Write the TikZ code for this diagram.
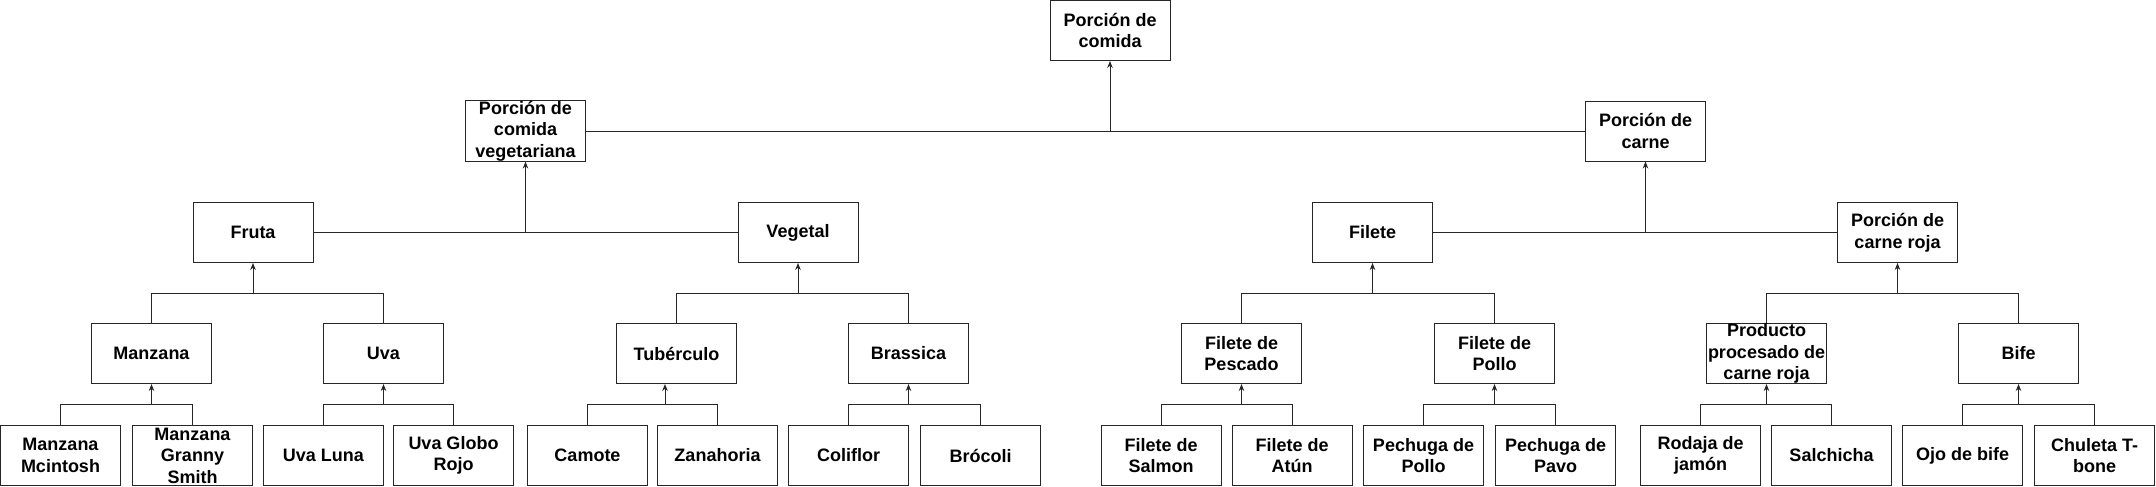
\documentclass[tikz,border=0pt]{standalone}
\usepackage{fontspec}
\setmainfont{Liberation Sans}
\usetikzlibrary{arrows.meta}
\begin{document}
\begin{tikzpicture}[x=1pt,y=-1pt,
  box/.style={draw=black!85, line width=1pt, minimum width=120pt, minimum height=60pt, inner sep=0pt, align=center, font=\bfseries\fontsize{18}{21.6}\selectfont},
  link/.style={draw=black!85, line width=1pt},
  arr/.style={link, -{Stealth[length=7pt,width=5.5pt]}}]
\useasboundingbox (0,0) rectangle (2156,487);
% row 0
\node[box] (comida) at (1110,30.5) {Porción de\\comida};
% row 1
\node[box] (veg) at (525.5,131) {Porción de\\comida\\vegetariana};
\node[box] (carne) at (1645.5,131) {Porción de\\carne};
% row 2
\node[box] (fruta) at (253,232.5) {Fruta};
\node[box] (vegetal) at (798,232.5) {Vegetal};
\node[box] (filete) at (1372.5,232.5) {Filete};
\node[box] (roja) at (1897.5,232.5) {Porción de\\carne roja};
% row 3
\node[box] (manzana) at (151.5,353.5) {Manzana};
\node[box] (uva) at (383.5,353.5) {Uva};
\node[box] (tub) at (676.5,353.5) {Tubérculo};
\node[box] (brassica) at (908.5,353.5) {Brassica};
\node[box] (pescado) at (1241.5,353.5) {Filete de\\Pescado};
\node[box] (pollo) at (1494.5,353.5) {Filete de\\Pollo};
\node[box] (producto) at (1766.5,353.5) {Producto\\procesado de\\carne roja};
\node[box] (bife) at (2018.5,353.5) {Bife};
% row 4
\node[box] (mcin) at (60.5,455.5) {Manzana\\Mcintosh};
\node[box] (granny) at (192.5,455.5) {Manzana\\Granny\\Smith};
\node[box] (luna) at (323.5,455.5) {Uva Luna};
\node[box] (globo) at (453.5,455.5) {Uva Globo\\Rojo};
\node[box] (camote) at (587.5,455.5) {Camote};
\node[box] (zana) at (717.5,455.5) {Zanahoria};
\node[box] (coli) at (848.5,455.5) {Coliflor};
\node[box] (broc) at (980.5,455.5) {Brócoli};
\node[box] (salmon) at (1161,455.5) {Filete de\\Salmon};
\node[box] (atun) at (1292,455.5) {Filete de\\Atún};
\node[box] (ppollo) at (1423.5,455.5) {Pechuga de\\Pollo};
\node[box] (ppavo) at (1555.5,455.5) {Pechuga de\\Pavo};
\node[box] (rodaja) at (1700.5,455.5) {Rodaja de\\jamón};
\node[box] (salchicha) at (1831.5,455.5) {Salchicha};
\node[box] (ojo) at (1962.5,455.5) {Ojo de bife};
\node[box] (chuleta) at (2094.5,455.5) {Chuleta T-\\bone};
% level 1 -> 0
\draw[link] (veg.east) -- (carne.west);
\draw[arr] (comida.south |- veg.east) -- (comida.south);
% level 2 -> 1
\draw[link] (fruta.east) -- (vegetal.west);
\draw[arr] (veg.south |- fruta.east) -- (veg.south);
\draw[link] (filete.east) -- (roja.west);
\draw[arr] (carne.south |- filete.east) -- (carne.south);
% level 3 -> 2
\foreach \a/\b/\p in {manzana/uva/fruta, tub/brassica/vegetal, pescado/pollo/filete, producto/bife/roja}{
  \draw[link] (\a.north) -- (\a.north |- 0,293) -- (\b.north |- 0,293) -- (\b.north);
  \draw[arr] (\p.south |- 0,293) -- (\p.south);
}
% level 4 -> 3
\foreach \a/\b/\p in {mcin/granny/manzana, luna/globo/uva, coli/broc/brassica, salmon/atun/pescado, ppollo/ppavo/pollo, rodaja/salchicha/producto, ojo/chuleta/bife}{
  \draw[link] (\a.north) -- (\a.north |- 0,404) -- (\b.north |- 0,404) -- (\b.north);
  \draw[arr] (\p.south |- 0,404) -- (\p.south);
}
\draw[link] (camote.north) -- (camote.north |- 0,404) -- (zana.north |- 0,404) -- (zana.north);
\coordinate (tubarr) at ([xshift=-11.5pt]tub.south);
\draw[arr] (tubarr |- 0,404) -- (tubarr);
\end{tikzpicture}
\end{document}
